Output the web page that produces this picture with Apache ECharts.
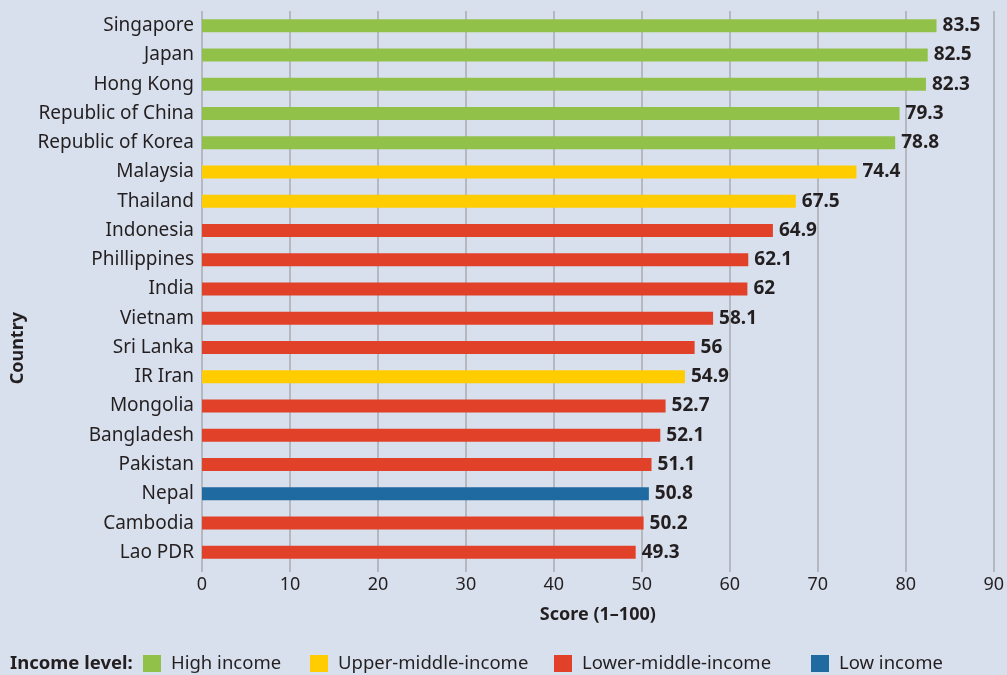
<!DOCTYPE html>
<html>
<head>
<meta charset="utf-8">
<script src="https://cdn.jsdelivr.net/npm/echarts@6/dist/echarts.min.js"></script>
<style>
  html, body { margin: 0; padding: 0; background: #d9e0ed }
  #chart { width: 1007px; height: 675px }
</style>
</head>
<body>
<div id="chart"></div>
<script>
// categories from bottom to top (category axis draws first item at bottom)
const countries = ['Lao PDR', 'Cambodia', 'Nepal', 'Pakistan', 'Bangladesh', 'Mongolia', 'IR Iran', 'Sri Lanka',
  'Vietnam', 'India', 'Phillippines', 'Indonesia', 'Thailand', 'Malaysia', 'Republic of Korea',
  'Republic of China', 'Hong Kong', 'Japan', 'Singapore']
const scores = [49.3, 50.2, 50.8, 51.1, 52.1, 52.7, 54.9, 56, 58.1, 62, 62.1, 64.9, 67.5, 74.4, 78.8, 79.3, 82.3, 82.5, 83.5]
const incomeLevel = ['L', 'L', 'W', 'L', 'L', 'L', 'U', 'L', 'L', 'L', 'L', 'L', 'U', 'U', 'H', 'H', 'H', 'H', 'H']
const levels = [
  { key: 'H', name: 'High income', color: '#92c14a' },
  { key: 'U', name: 'Upper-middle-income', color: '#ffcc00' },
  { key: 'L', name: 'Lower-middle-income', color: '#e04128' },
  { key: 'W', name: 'Low income', color: '#1f6aa1' }
]
const legendLeft = [143, 310, 554, 811]
const xTicks = [0, 10, 20, 30, 40, 50, 60, 70, 80, 90]

const font = 'Noto Sans'
const ink = '#231f20'
const chart = echarts.init(document.getElementById('chart'))

chart.setOption({
  backgroundColor: '#d9e0ed',
  animation: false,
  textStyle: { fontFamily: font },
  grid: { left: 202, right: 12, top: 11, bottom: 108 },
  // one legend per item so each sits where the original has it
  legend: levels.map((l, i) => ({
    left: legendLeft[i], top: 654, padding: 0,
    itemWidth: 18, itemHeight: 17, icon: 'rect',
    textStyle: { fontFamily: font, fontSize: 18.5, color: ink, padding: [0, 0, 0, 5] },
    data: [l.name]
  })),
  graphic: [
    { type: 'text', left: 10, top: 654,
      style: { text: 'Income level:', font: 'bold 18.5px ' + font, fill: ink } },
    { type: 'text', left: 9, top: 312, rotation: Math.PI / 2,
      style: { text: 'Country', font: 'bold 18px ' + font, fill: ink } }
  ],
  xAxis: {
    type: 'value', min: 0, max: 90, interval: 10,
    name: 'Score (1–100)', nameLocation: 'middle', nameGap: 39,
    nameTextStyle: { fontFamily: font, fontSize: 18, fontWeight: 'bold', color: ink },
    axisLine: { show: false },
    axisTick: { show: true, length: 5, lineStyle: { color: '#a9abae', width: 1.5 } },
    axisLabel: { fontSize: 18, color: ink, margin: 9,
      formatter: v => xTicks.includes(v) ? String(v) : '' },
    splitLine: { show: true, lineStyle: { color: '#a9abae', width: 1.5 } }
  },
  yAxis: {
    type: 'category', data: countries,
    axisLine: { show: false }, axisTick: { show: false },
    axisLabel: { fontSize: 19, color: ink, margin: 8 }
  },
  series: levels.map(l => ({
    name: l.name, type: 'bar', barWidth: 13, barGap: '-100%',
    itemStyle: { color: l.color },
    label: { show: true, position: 'right', distance: 6,
      fontFamily: font, fontSize: 19, fontWeight: 'bold', color: ink },
    data: scores.map((s, i) => incomeLevel[i] === l.key ? s : null)
  }))
})
</script>
</body>
</html>
